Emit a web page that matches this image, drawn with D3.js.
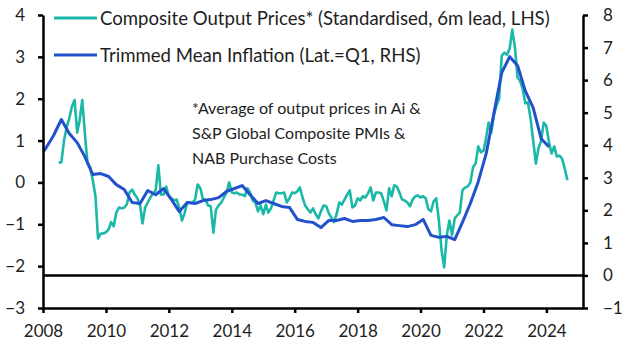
<!DOCTYPE html>
<html>
<head>
<meta charset="utf-8">
<script src="https://cdn.jsdelivr.net/npm/d3@7"></script>
<style>
	body { margin: 0; background: #fff; }
	text { font-family: Lato, "Open Sans", sans-serif; fill: #1e1e1e; }
</style>
</head>
<body>
<script>
const WIDTH = 627;
const HEIGHT = 352;
const MARGIN = {top: 15, right: 44, bottom: 44, left: 43};
const INNER_WIDTH = WIDTH - MARGIN.left - MARGIN.right;
const INNER_HEIGHT = HEIGHT - MARGIN.top - MARGIN.bottom;

const TEAL = '#1ab8a7';
const BLUE = '#2152cc';

// composite output prices (standardised, 6m lead) - monthly, first month Jul 2008
const outputStart = new Date(2008, 6, 1);
const outputPrices = [
	0.48, 0.48, 1.0, 1.31, 1.53, 1.81, 1.97, 1.19, 1.48, 1.97, 1.17, 0.45,
	0.36, 0.05, -0.33, -1.34, -1.22, -1.22, -1.19, -1.12, -0.95, -1.05, -0.72, -0.6,
	-0.62, -0.6, -0.52, -0.24, -0.17, -0.29, -0.38, -0.55, -0.98, -0.6, -0.48, -0.36,
	-0.26, -0.19, 0.41, -0.29, -0.29, -0.1, -0.33, -0.38, -0.43, -0.41, -0.6, -0.91,
	-0.74, -0.48, -0.48, -0.48, -0.41, -0.05, -0.14, -0.41, -0.41, -0.55, -0.57, -1.2,
	-0.65, -0.55, -0.48, -0.36, -0.24, 0.0, -0.24, -0.26, -0.24, -0.29, -0.29, -0.33,
	-0.14, -0.24, -0.43, -0.48, -0.69, -0.55, -0.76, -0.53, -0.72, -0.62, -0.43, -0.24,
	-0.26, -0.26, -0.24, -0.48, -0.38, -0.24, -0.26, -0.21, -0.12, -0.36, -0.55, -0.64,
	-0.72, -0.62, -0.76, -0.86, -0.69, -0.55, -0.57, -0.74, -0.84, -0.95, -0.76, -0.48,
	-0.53, -0.41, -0.29, -0.19, -0.6, -0.55, -0.38, -0.43, -0.33, -0.36, -0.26, -0.12,
	-0.43, -0.24, -0.24, -0.26, -0.45, -0.67, -0.14, -0.33, -0.07, -0.1, -0.24, -0.41,
	-0.43, -0.48, -0.57, -0.41, -0.33, -0.31, -0.36, -0.33, -0.38, -0.64, -0.69, -0.45,
	-0.38, -0.91, -1.62, -2.03, -1.26, -0.91, -1.26, -0.86, -0.79, -0.72, -0.19, -0.12,
	-0.1, 0.0, 0.36, 0.45, 0.86, 0.72, 0.76, 1.07, 1.43, 1.19, 1.6, 1.84,
	2.0, 3.03, 3.1, 3.05, 3.2, 3.65, 3.22, 2.5, 2.43, 2.24, 1.89, 1.91,
	1.53, 1.0, 0.45, 0.81, 1.0, 1.43, 1.34, 0.95, 0.69, 0.86, 0.62, 0.64,
	0.57, 0.33, 0.05
];

// trimmed mean inflation, % y/y - quarterly, first quarter Q4 2007
const trimmedStart = new Date(2007, 10, 1);
const trimmedMean = [
	3.6,
	3.9, 4.29, 4.79, 4.36, 4.08, 3.65, 3.10, 3.13, 3.04, 2.79,
	2.64, 2.24, 2.21, 2.61, 2.48, 2.67, 2.33, 1.96, 2.24, 2.21,
	2.30, 2.33, 2.39, 2.58, 2.67, 2.76, 2.48, 2.21, 2.30, 2.21,
	2.12, 2.09, 1.72, 1.66, 1.63, 1.47, 1.69, 1.69, 1.75, 1.66,
	1.69, 1.69, 1.72, 1.78, 1.56, 1.53, 1.50, 1.56, 1.72, 1.23,
	1.17, 1.20, 1.10, 1.63, 2.21, 2.88, 3.74, 4.97, 6.23, 6.72,
	6.44, 5.67, 5.15, 4.2, 3.95
];

const leftTicks = [-3, -2, -1, 0, 1, 2, 3, 4];
const rightTicks = [-1, 0, 1, 2, 3, 4, 5, 6, 7, 8];
const yearTicks = [2008, 2010, 2012, 2014, 2016, 2018, 2020, 2022, 2024];

const legendLabels = [
	'Composite Output Prices* (Standardised, 6m lead, LHS)',
	'Trimmed Mean Inflation (Lat.=Q1, RHS)'
];
const noteLines = [
	'*Average of output prices in Ai &',
	'S&P Global Composite PMIs &',
	'NAB Purchase Costs'
];

var drawChart = function(){
	var svg = d3.select('body')
		.append('svg')
		.attr('width', WIDTH)
		.attr('height', HEIGHT);

	var xScale = d3.scaleTime()
		.domain([new Date(2008, 0, 1), new Date(2025, 2, 1)])
		.range([0, INNER_WIDTH]);
	var yLeft = d3.scaleLinear().domain([-3, 4]).range([INNER_HEIGHT, 0]);
	var yRight = d3.scaleLinear().domain([-1, 8]).range([INNER_HEIGHT, 0]);

	var g = svg.append('g')
		.attr('transform', 'translate(' + MARGIN.left + ',' + MARGIN.top + ')');

	g.append('clipPath').attr('id', 'plot')
		.append('rect')
		.attr('width', INNER_WIDTH)
		.attr('height', INNER_HEIGHT);

	var outputData = outputPrices.map(function(v, i){
		return {date: d3.timeMonth.offset(outputStart, i), value: v};
	});
	var trimmedData = trimmedMean.map(function(v, i){
		return {date: d3.timeMonth.offset(trimmedStart, 3 * i), value: v};
	});

	var lines = g.append('g').attr('clip-path', 'url(#plot)');

	lines.append('path')
		.attr('d', d3.line()
			.x(function(d){ return xScale(d.date); })
			.y(function(d){ return yLeft(d.value); })(outputData))
		.attr('fill', 'none')
		.attr('stroke', TEAL)
		.attr('stroke-width', 2.6)
		.attr('stroke-linejoin', 'round');

	lines.append('path')
		.attr('d', d3.line()
			.x(function(d){ return xScale(d.date); })
			.y(function(d){ return yRight(d.value); })(trimmedData))
		.attr('fill', 'none')
		.attr('stroke', BLUE)
		.attr('stroke-width', 3)
		.attr('stroke-linejoin', 'round');

	// zero line of the right axis
	g.append('line')
		.attr('x1', 0)
		.attr('x2', INNER_WIDTH)
		.attr('y1', yRight(0))
		.attr('y2', yRight(0))
		.attr('stroke', '#000')
		.attr('stroke-width', 2.5);

	var leftAxis = d3.axisLeft(yLeft).tickValues(leftTicks)
		.tickFormat(d3.format('d'))
		.tickSize(5).tickSizeOuter(0).tickPadding(13);
	var rightAxis = d3.axisRight(yRight).tickValues(rightTicks)
		.tickFormat(d3.format('d'))
		.tickSize(5).tickSizeOuter(0).tickPadding(15);
	var bottomAxis = d3.axisBottom(xScale)
		.tickValues(yearTicks.map(function(y){ return new Date(y, 0, 1); }))
		.tickFormat(d3.timeFormat('%Y'))
		.tickSize(5).tickSizeOuter(0).tickPadding(12);

	var axes = [
		g.append('g').call(leftAxis),
		g.append('g').attr('transform', 'translate(' + INNER_WIDTH + ',0)').call(rightAxis),
		g.append('g').attr('transform', 'translate(0,' + INNER_HEIGHT + ')').call(bottomAxis)
	];
	axes.forEach(function(a){
		a.selectAll('path, line').attr('stroke', '#000').attr('stroke-width', 2.5);
		a.selectAll('text').style('font-size', '17px').attr('fill', '#1e1e1e');
		a.attr('font-family', null);
	});

	// legend
	var legend = svg.append('g');
	legendLabels.forEach(function(label, i){
		var y = 18 + i * 37;
		legend.append('line')
			.attr('x1', 54).attr('x2', 97)
			.attr('y1', y).attr('y2', y)
			.attr('stroke', i == 0 ? TEAL : BLUE)
			.attr('stroke-width', 3);
		legend.append('text')
			.attr('x', 100)
			.attr('y', y)
			.attr('dy', '0.35em')
			.style('font-size', '18.6px')
			.text(label);
	});

	// footnote
	svg.append('g').selectAll('text')
		.data(noteLines)
		.enter()
		.append('text')
		.attr('x', 192)
		.attr('y', function(d, i){ return 108 + i * 25; })
		.attr('dy', '0.35em')
		.style('font-size', '16px')
		.text(function(d){ return d; });
}

window.onload = function(){
	drawChart();
}
</script>
</body>
</html>
